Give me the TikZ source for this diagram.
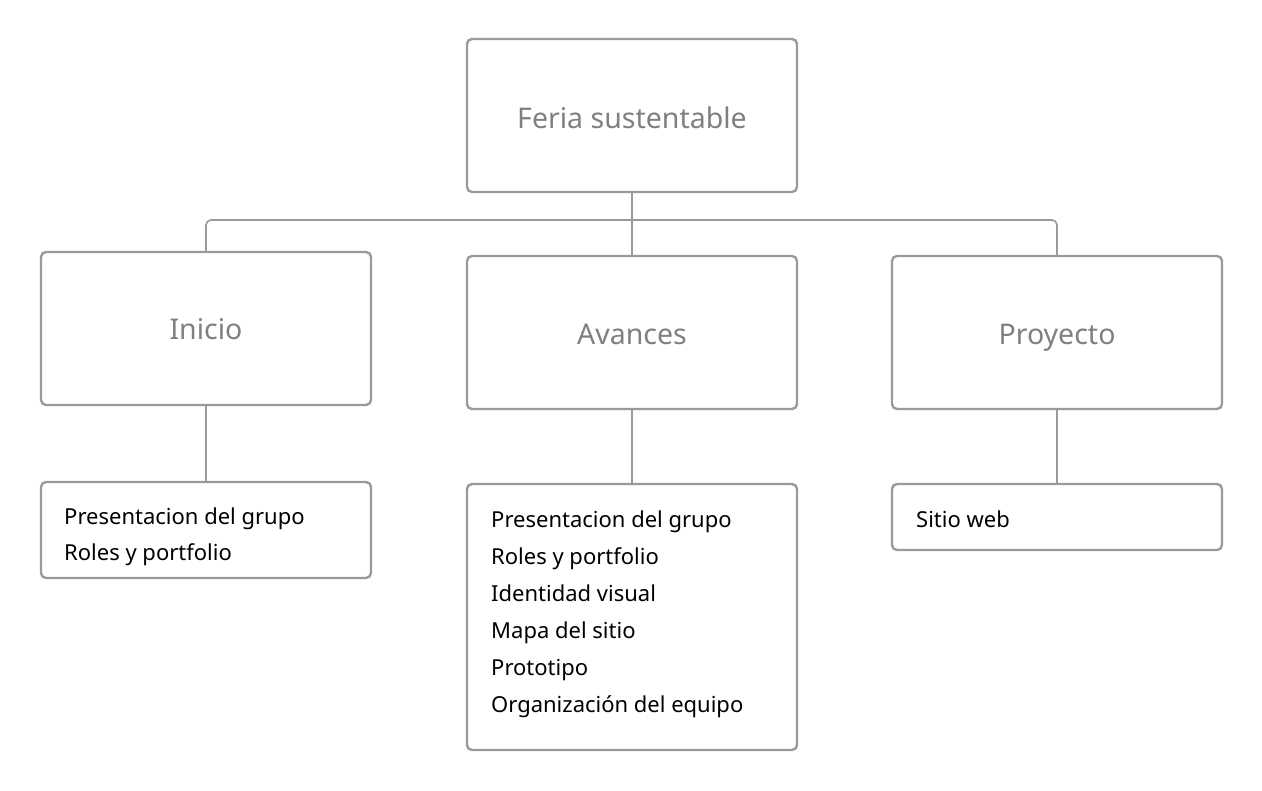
\documentclass[tikz,border=0pt]{standalone}
\usepackage{fontspec}
\setmainfont{Noto Sans}
\definecolor{boxgray}{HTML}{9A9A9A}
\definecolor{titlegray}{HTML}{808080}
\begin{document}
\begin{tikzpicture}[x=1pt,y=-1pt,
  box/.style={draw=boxgray,line width=2.4pt,rounded corners=5pt,minimum width=330pt,inner sep=0pt,fill=white},
  title/.style={anchor=base,inner sep=0pt,text=titlegray,font=\fontsize{28.5}{32}\selectfont},
  listtext/.style={anchor=base west,align=left,inner sep=0pt,text=black,font=\fontsize{22}{37}\selectfont},
  conn/.style={draw=boxgray,line width=1.6pt}]
\useasboundingbox (0,0) rectangle (1262,791);
% main boxes
\node[box,minimum height=153pt] (top) at (632,115.5) {};
\node[title] (topt) at (632,129) {Feria sustentable};
\node[box,minimum height=153pt] (ini) at (206,328.5) {};
\node[title] (init) at (206,340) {Inicio};
\node[box,minimum height=153pt] (ava) at (632,332.5) {};
\node[title] (avat) at (632,345) {Avances};
\node[box,minimum height=153pt] (pro) at (1057,332.5) {};
\node[title] (prot) at (1057,345) {Proyecto};
% list boxes
\node[box,minimum height=96pt] (inil) at (206,530) {};
\node[box,minimum height=266pt] (aval) at (632,617) {};
\node[box,minimum height=66pt] (prol) at (1057,517) {};
% list texts (anchored at the baseline of their last line)
\node[listtext,font=\fontsize{22}{36}\selectfont] (inilt) at (64,561) {Presentacion del grupo\\Roles y portfolio};
\node[listtext] (avalt) at (491,712) {Presentacion del grupo\\Roles y portfolio\\Identidad visual\\Mapa del sitio\\Prototipo\\Organización del equipo};
\node[listtext] (prolt) at (916,528) {Sitio web};
% connectors
\coordinate (bus) at (632,220);
\draw[conn,rounded corners=5pt] (ini.north) |- (bus) -| (pro.north);
\draw[conn] (top.south) -- (ava.north);
\draw[conn] (ini.south) -- (inil.north);
\draw[conn] (ava.south) -- (aval.north);
\draw[conn] (pro.south) -- (prol.north);
\end{tikzpicture}
\end{document}
